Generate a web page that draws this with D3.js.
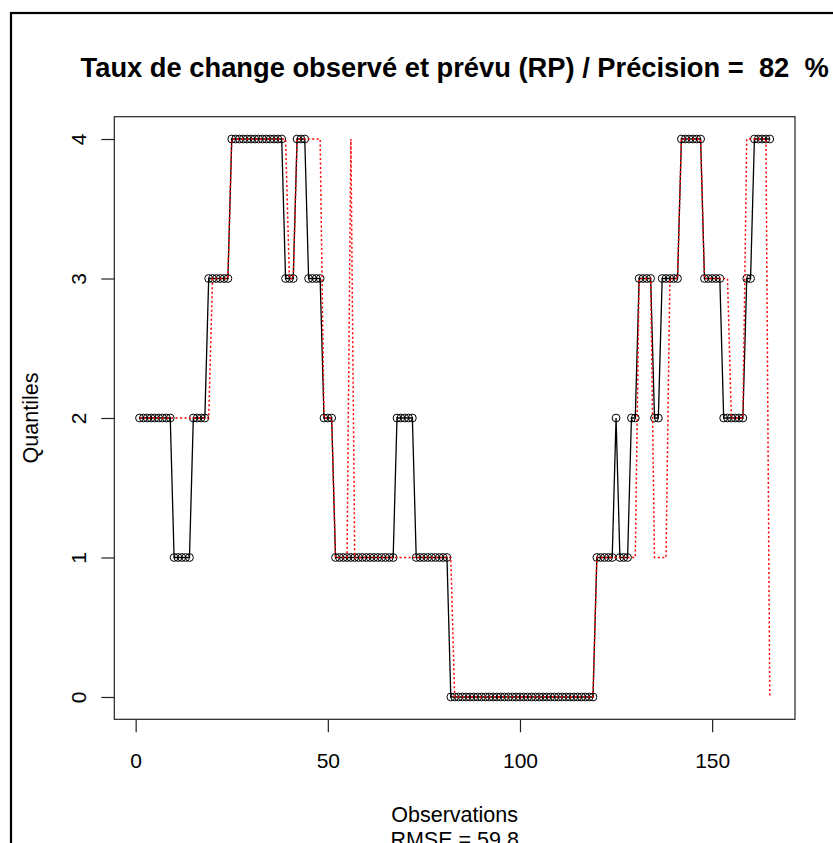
<!DOCTYPE html>
<html>
<head>
<meta charset="utf-8">
<script src="https://cdn.jsdelivr.net/npm/d3@7"></script>
<style>
  body { margin: 0; background: #fff; }
  svg { display: block; font-family: "Liberation Sans", Arial, sans-serif; }
</style>
</head>
<body>
<script>
// Drawing area
const w = 833;
const h = 843;

// Plot box (the R plot region)
const box = { left: 114.3, right: 795, top: 116.7, bottom: 719.3 };

// Observed quantiles, observations 1..165
const observed = [
  2, 2, 2, 2, 2, 2, 2, 2, 2, 1,
  1, 1, 1, 1, 2, 2, 2, 2, 3, 3,
  3, 3, 3, 3, 4, 4, 4, 4, 4, 4,
  4, 4, 4, 4, 4, 4, 4, 4, 3, 3,
  3, 4, 4, 4, 3, 3, 3, 3, 2, 2,
  2, 1, 1, 1, 1, 1, 1, 1, 1, 1,
  1, 1, 1, 1, 1, 1, 1, 2, 2, 2,
  2, 2, 1, 1, 1, 1, 1, 1, 1, 1,
  1, 0, 0, 0, 0, 0, 0, 0, 0, 0,
  0, 0, 0, 0, 0, 0, 0, 0, 0, 0,
  0, 0, 0, 0, 0, 0, 0, 0, 0, 0,
  0, 0, 0, 0, 0, 0, 0, 0, 0, 1,
  1, 1, 1, 1, 2, 1, 1, 1, 2, 2,
  3, 3, 3, 3, 2, 2, 3, 3, 3, 3,
  3, 4, 4, 4, 4, 4, 4, 3, 3, 3,
  3, 3, 2, 2, 2, 2, 2, 2, 3, 3,
  4, 4, 4, 4, 4
];

// Predicted quantiles (RP), observations 1..165
const predicted = [
  2, 2, 2, 2, 2, 2, 2, 2, 2, 2,
  2, 2, 2, 2, 2, 2, 2, 2, 2, 3,
  3, 3, 3, 3, 4, 4, 4, 4, 4, 4,
  4, 4, 4, 4, 4, 4, 4, 4, 4, 3,
  3, 4, 4, 4, 4, 4, 4, 4, 2, 2,
  2, 1, 1, 1, 1, 4, 1, 1, 1, 1,
  1, 1, 1, 1, 1, 1, 1, 1, 1, 1,
  1, 1, 1, 1, 1, 1, 1, 1, 1, 1,
  1, 1, 0, 0, 0, 0, 0, 0, 0, 0,
  0, 0, 0, 0, 0, 0, 0, 0, 0, 0,
  0, 0, 0, 0, 0, 0, 0, 0, 0, 0,
  0, 0, 0, 0, 0, 0, 0, 0, 0, 1,
  1, 1, 1, 1, 1, 1, 1, 1, 1, 1,
  3, 3, 3, 3, 1, 1, 1, 1, 3, 3,
  3, 4, 4, 4, 4, 4, 4, 3, 3, 3,
  3, 3, 3, 3, 2, 2, 2, 2, 4, 4,
  4, 4, 4, 4, 0
];

// Axis ticks
const xTicks = [0, 50, 100, 150];
const yTicks = [0, 1, 2, 3, 4];

// Texts
const title = "Taux de change observé et prévu (RP) / Précision =  82  %";
const xLabel = "Observations";
const subLabel = "RMSE = 59.8";
const yLabel = "Quantiles";

const svg = d3.select("body").append("svg").attr("width", w).attr("height", h);

// R pads the data range by 4% on each side
const n = observed.length;
const xPad = (n - 1) * 0.04;
const xScale = d3.scaleLinear().domain([1 - xPad, n + xPad]).range([box.left, box.right]);
const yScale = d3.scaleLinear().domain([-0.16, 4.16]).range([box.bottom, box.top]);

// Outer frame of the figure
svg.append("rect")
  .attr("x", 11).attr("y", 13)
  .attr("width", 900).attr("height", 900)
  .attr("fill", "none").attr("stroke", "#000").attr("stroke-width", 2.2);

// Plot box
svg.append("rect")
  .attr("x", box.left).attr("y", box.top)
  .attr("width", box.right - box.left).attr("height", box.bottom - box.top)
  .attr("fill", "none").attr("stroke", "#222").attr("stroke-width", 1.2);

// X axis
const xAxis = d3.axisBottom(xScale).tickValues(xTicks).tickSize(13).tickPadding(21);
const gx = svg.append("g")
  .attr("transform", "translate(0," + box.bottom + ")")
  .call(xAxis);
gx.select(".domain").remove();
gx.selectAll("line").attr("stroke", "#222").attr("stroke-width", 1.2);
gx.selectAll("text")
  .attr("fill", "#000")
  .style("font-size", "21px")
  .style("font-family", "Liberation Sans, Arial, sans-serif");

// Y axis, labels parallel to the axis as in R
const yAxis = d3.axisLeft(yScale).tickValues(yTicks).tickSize(13).tickFormat(d3.format("d"));
const gy = svg.append("g")
  .attr("transform", "translate(" + box.left + ",0)")
  .call(yAxis);
gy.select(".domain").remove();
gy.selectAll("line").attr("stroke", "#222").attr("stroke-width", 1.2);
gy.selectAll("text")
  .attr("x", null).attr("dy", null)
  .attr("transform", "translate(-28.5,0) rotate(-90)")
  .attr("text-anchor", "middle")
  .attr("fill", "#000")
  .style("font-size", "21px")
  .style("font-family", "Liberation Sans, Arial, sans-serif");

// Observed series: solid line with open circles
const line = d3.line()
  .x((d, i) => xScale(i + 1))
  .y(d => yScale(d));

svg.append("path")
  .datum(observed)
  .attr("d", line)
  .attr("fill", "none")
  .attr("stroke", "#000")
  .attr("stroke-width", 1.3);

svg.selectAll("circle.obs")
  .data(observed)
  .enter()
  .append("circle")
  .attr("class", "obs")
  .attr("cx", (d, i) => xScale(i + 1))
  .attr("cy", d => yScale(d))
  .attr("r", 3.9)
  .attr("fill", "none")
  .attr("stroke", "#000")
  .attr("stroke-width", 1);

// Predicted series: red dotted line on top
svg.append("path")
  .datum(predicted)
  .attr("d", line)
  .attr("fill", "none")
  .attr("stroke", "#ff0000")
  .attr("stroke-width", 1.5)
  .attr("stroke-dasharray", "2,2.5");

// Title (keep the double spaces)
svg.append("text")
  .attr("x", (box.left + box.right) / 2)
  .attr("y", 77)
  .attr("text-anchor", "middle")
  .style("white-space", "pre")
  .style("font-size", "27.3px")
  .style("font-weight", "bold")
  .text(title);

// X label and RMSE on the line below
svg.append("text")
  .attr("x", (box.left + box.right) / 2)
  .attr("y", 822)
  .attr("text-anchor", "middle")
  .style("font-size", "21.5px")
  .text(xLabel);

svg.append("text")
  .attr("x", (box.left + box.right) / 2)
  .attr("y", 847)
  .attr("text-anchor", "middle")
  .style("font-size", "21.5px")
  .text(subLabel);

// Y label
svg.append("text")
  .attr("transform", "translate(38," + (box.top + box.bottom) / 2 + ") rotate(-90)")
  .attr("text-anchor", "middle")
  .style("font-size", "21.5px")
  .text(yLabel);
</script>
</body>
</html>
